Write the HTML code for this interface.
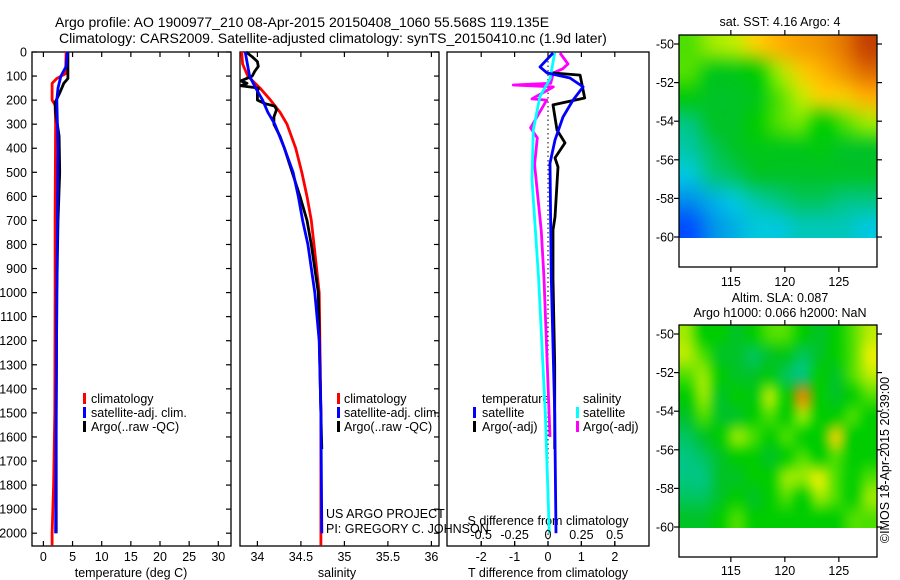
<!DOCTYPE html>
<html><head><meta charset="utf-8"><style>
body{margin:0;background:#fff;}
svg{display:block;font-family:"Liberation Sans",sans-serif;}
canvas{position:absolute;}
#wrap{position:relative;width:900px;height:580px;overflow:hidden;}
</style></head><body>
<div id="wrap">
<canvas id="sstmap" width="198" height="203" style="left:679px;top:35px;width:198px;height:203px;"></canvas>
<canvas id="slamap" width="198" height="203" style="left:679px;top:325px;width:198px;height:203px;"></canvas>
<svg id="fig" width="900" height="580" style="position:absolute;left:0;top:0">
<text x="55" y="27" font-size="14">Argo profile: AO 1900977_210 08-Apr-2015 20150408_1060 55.568S 119.135E</text>
<text x="59" y="43" font-size="14">Climatology: CARS2009. Satellite-adjusted climatology: synTS_20150410.nc (1.9d later)</text>
<rect x="32" y="52" width="199" height="494" fill="none" stroke="#000" stroke-width="1.3"/>
<rect x="240" y="52" width="199" height="494" fill="none" stroke="#000" stroke-width="1.3"/>
<rect x="447" y="52" width="202" height="494" fill="none" stroke="#000" stroke-width="1.3"/>
<line x1="548" y1="52" x2="548" y2="546" stroke="#000" stroke-dasharray="1.5,3"/>
<text x="131" y="577" font-size="12.5" text-anchor="middle">temperature (deg C)</text>
<text x="337" y="577" font-size="12.5" text-anchor="middle">salinity</text>
<text x="548" y="577" font-size="12.5" text-anchor="middle">T difference from climatology</text>
<text x="548" y="525" font-size="12.5" text-anchor="middle">S difference from climatology</text>
<text x="326" y="518" font-size="12.5">US ARGO PROJECT</text>
<text x="326" y="533" font-size="12.5">PI: GREGORY C. JOHNSON</text>
<g font-size="12.5">
<rect x="83" y="393" width="3" height="11" fill="#f00"/>
<text x="91" y="403">climatology</text>
<rect x="83" y="407" width="3" height="11" fill="#00f"/>
<text x="91" y="417">satellite-adj. clim.</text>
<rect x="83" y="421" width="3" height="11" fill="#000"/>
<text x="91" y="431">Argo(..raw -QC)</text>
</g>
<g font-size="12.5">
<rect x="337" y="393" width="3" height="11" fill="#f00"/>
<text x="344" y="403">climatology</text>
<rect x="337" y="407" width="3" height="11" fill="#00f"/>
<text x="344" y="417">satellite-adj. clim.</text>
<rect x="337" y="421" width="3" height="11" fill="#000"/>
<text x="344" y="431">Argo(..raw -QC)</text>
</g>
<g font-size="12.5">
<text x="482" y="403">temperature</text>
<text x="583" y="403">salinity</text>
<rect x="473" y="407" width="3" height="11" fill="#00f"/>
<text x="482" y="417">satellite</text>
<rect x="473" y="421" width="3" height="11" fill="#000"/>
<text x="482" y="431">Argo(-adj)</text>
<rect x="576" y="407" width="3" height="11" fill="#0ff"/>
<text x="583" y="417">satellite</text>
<rect x="576" y="421" width="3" height="11" fill="#f0f"/>
<text x="583" y="431">Argo(-adj)</text>
</g>
<text x="780" y="26" font-size="12.5" text-anchor="middle">sat. SST: 4.16 Argo: 4</text>
<text x="780" y="302" font-size="12.5" text-anchor="middle">Altim. SLA: 0.087</text>
<text x="780" y="317" font-size="12.5" text-anchor="middle">Argo h1000: 0.066 h2000: NaN</text>
<rect x="679" y="35" width="198" height="232" fill="none" stroke="#000" stroke-width="1.3"/>
<rect x="679" y="325" width="198" height="232" fill="none" stroke="#000" stroke-width="1.3"/>
<text transform="translate(889,460) rotate(-90)" font-size="12.5" text-anchor="middle">©IMOS 18-Apr-2015 20:39:00</text>
<g id="dyn"></g>
</svg>
</div>
<script>
// ---- profile data (depth m, value) ----
const depthTclim = [0,90,110,130,200,220,300,700,1000,1500,1800,2000,2050];
const tempClim   = [3.9,3.8,2.3,1.5,1.5,2.0,2.1,2.0,2.0,1.95,1.75,1.5,1.5];
const depthTsat  = [0,60,100,150,200,400,1000,1500,2000];
const tempSat    = [4.1,3.9,3.0,2.5,2.3,2.5,2.3,2.2,2.1];
const depthTargo = [0,80,110,130,170,210,250,350,500,700,1000,1500,2000];
const tempArgo   = [4.2,4.2,4.2,3.5,2.8,2.0,2.1,2.7,2.8,2.5,2.3,2.2,2.2];

const depthSclim = [0,50,100,150,200,250,300,400,500,600,700,800,1000,1500,2050];
const salClim    = [33.82,33.83,33.89,34.03,34.15,34.26,34.34,34.44,34.51,34.57,34.62,34.65,34.71,34.73,34.73];
const depthSsat  = [0,100,150,200,250,300,400,500,600,700,800,1000,1200,1500,2000];
const salSat     = [33.86,33.91,33.98,34.06,34.12,34.20,34.31,34.41,34.47,34.52,34.58,34.66,34.71,34.73,34.74];
const depthSargo = [0,20,40,60,80,100,120,130,140,150,170,200,215,225,240,270,300,350,400,500,600,700,800,1000,1500,1650];
const salArgo    = [33.87,33.94,34.00,34.01,33.97,33.94,33.81,33.88,33.81,34.01,34.0,34.0,34.09,34.20,34.22,34.19,34.19,34.26,34.31,34.40,34.49,34.57,34.62,34.70,34.73,34.74];

const depthDTsat = [4,62,87,108,145,200,270,366,462,940,1500,2000];
const dTsat      = [0.15,-0.24,-0.03,0.66,1.05,0.75,0.45,0.21,0.06,0.1,0.2,0.24];
const depthDTargo= [87,96,191,220,324,378,440,478,686,740,940,1300,1650];
const dTargo     = [0.12,0.96,1.1,0.15,0.27,0.51,0.21,0.3,0.21,0.15,0.15,0.2,0.2];
const depthDSsat = [4,112,184,324,530,940,1500,2000];
const dSsat      = [0.05,0.015,-0.06,-0.11,-0.12,-0.07,-0.02,0.01];
const depthDSargo= [4,50,70,87,130,137,145,195,200,315,357,468,745,940,1600];
const dSargo     = [0.09,0.15,0.11,0.04,0.02,-0.26,0.04,-0.12,-0.01,-0.13,-0.08,-0.1,-0.05,-0.03,0.015];

const depthTicks = [0,100,200,300,400,500,600,700,800,900,1000,1100,1200,1300,1400,1500,1600,1700,1800,1900,2000];
const tempTicks = [0,5,10,15,20,25,30];
const salTicks = [34,34.5,35,35.5,36];
const salTickLabels = ["34","34.5","35","35.5","36"];
const tdTicks = [-2,-1,0,1,2];
const sdTicks = [-0.5,-0.25,0,0.25,0.5];
const sdTickLabels = ["-0.5","-0.25","0","0.25","0.5"];
const latTicks = [-50,-52,-54,-56,-58,-60];
const lonTicks = [115,120,125];

// ---- axis functions ----
const yD = d => 52 + d*0.2406;
const xT = t => 43.4 + t*5.83;
const xS = s => 240 + (s-33.8)*87;
const xTd = v => 548 + v*33.4;
const xSd = v => 548 + v*133.6;
const mapX = lon => 679 + (lon-110.2)*10.8;
const mapYtop = lat => 44 + (-50-lat)*19.3;
const mapYbot = lat => 334 + (-50-lat)*19.3;

const NS = "http://www.w3.org/2000/svg";
const dyn = document.getElementById('dyn');
function mk(tag){ const e = document.createElementNS(NS, tag); dyn.appendChild(e); return e; }

function drawLine(depths, vals, xf, color, name){
  const el = mk('polyline');
  el.setAttribute('points', depths.map((d,i)=>xf(vals[i]).toFixed(1)+','+yD(d).toFixed(1)).join(' '));
  el.setAttribute('fill','none');
  el.setAttribute('stroke',color);
  el.setAttribute('stroke-width','2.8');
  el.setAttribute('stroke-linejoin','round');
  
  
}
drawLine(depthTclim,tempClim,xT,'#f00','temp-climatology-line');
drawLine(depthTargo,tempArgo,xT,'#000','temp-argo-line');
drawLine(depthTsat,tempSat,xT,'#00f','temp-satellite-line');
drawLine(depthSclim,salClim,xS,'#f00','sal-climatology-line');
drawLine(depthSargo,salArgo,xS,'#000','sal-argo-line');
drawLine(depthSsat,salSat,xS,'#00f','sal-satellite-line');
drawLine(depthDSargo,dSargo,xSd,'#f0f','s-diff-argo-line');
drawLine(depthDTargo,dTargo,xTd,'#000','t-diff-argo-line');
drawLine(depthDSsat,dSsat,xSd,'#0ff','s-diff-satellite-line');
drawLine(depthDTsat,dTsat,xTd,'#00f','t-diff-satellite-line');

function tick(x1,y1,x2,y2,name){
  const l = mk('line');
  l.setAttribute('x1',x1); l.setAttribute('y1',y1); l.setAttribute('x2',x2); l.setAttribute('y2',y2);
  l.setAttribute('stroke','#000'); l.setAttribute('stroke-width','1.2');
  
  
}
function label(x,y,txt,anchor,name){
  const t = mk('text');
  t.setAttribute('x',x); t.setAttribute('y',y); t.setAttribute('font-size','12.5');
  t.setAttribute('text-anchor',anchor); t.textContent = txt;
  
  
}
depthTicks.forEach(d=>{
  const y = yD(d);
  label(27, y+4.5, String(d), 'end', 'depth-tick-label');
  tick(32,y,37,y,'depth-tick');
  tick(226,y,231,y,'depth-tick');
  tick(434,y,439,y,'depth-tick');
});
tempTicks.forEach(v=>{
  const x = xT(v);
  tick(x,52,x,57,'temp-tick'); tick(x,541,x,546,'temp-tick');
  label(x,561,String(v),'middle','temp-tick-label');
});
salTicks.forEach((v,i)=>{
  const x = xS(v);
  tick(x,52,x,57,'sal-tick'); tick(x,541,x,546,'sal-tick');
  label(x,561,salTickLabels[i],'middle','sal-tick-label');
});
tdTicks.forEach(v=>{
  const x = xTd(v);
  tick(x,52,x,57,'t-diff-tick'); tick(x,541,x,546,'t-diff-tick');
  label(x,561,String(v),'middle','t-diff-tick-label');
});
sdTicks.forEach((v,i)=>{
  const x = xSd(v);
  tick(x,541,x,546,'s-diff-tick');
  label(x,539,sdTickLabels[i],'middle','s-diff-tick-label');
});
latTicks.forEach(v=>{
  [[mapYtop,'sst'],[mapYbot,'sla']].forEach(([f,n])=>{
    const y = f(v);
    tick(674,y,679,y,n+'-lat-tick'); tick(877,y,882,y,n+'-lat-tick');
    label(674,y+4.5,String(v),'end',n+'-lat-tick-label');
  });
});
lonTicks.forEach(v=>{
  const x = mapX(v);
  tick(x,30,x,35,'sst-lon-tick'); tick(x,267,x,272,'sst-lon-tick');
  label(x,286,String(v),'middle','sst-lon-tick-label');
  tick(x,320,x,325,'sla-lon-tick'); tick(x,557,x,562,'sla-lon-tick');
  label(x,575,String(v),'middle','sla-lon-tick-label');
});

// ---- map data (normalized colour index 0..1) ----
const sstGrid = [
 [.55,.6,.62,.7,.75,.78,.8,.85,.92],
 [.55,.47,.47,.5,.6,.7,.75,.8,.86],
 [.48,.45,.45,.47,.55,.62,.7,.7,.75],
 [.4,.45,.45,.5,.55,.57,.5,.55,.6],
 [.38,.42,.45,.47,.47,.47,.48,.45,.45],
 [.35,.4,.42,.45,.45,.45,.45,.45,.45],
 [.28,.32,.35,.38,.4,.42,.42,.4,.4],
 [.2,.28,.32,.35,.35,.37,.37,.37,.35]];
const slaGrid = [
 [.6,.5,.5,.45,.5,.55,.55,.5,.45,.5,.55,.62],
 [.62,.55,.45,.45,.42,.45,.47,.42,.45,.5,.55,.65],
 [.55,.6,.5,.45,.45,.48,.42,.4,.5,.45,.55,.62],
 [.5,.6,.45,.5,.48,.62,.5,.82,.5,.45,.5,.55],
 [.45,.55,.45,.45,.5,.55,.5,.6,.5,.5,.55,.5],
 [.42,.45,.5,.6,.55,.5,.55,.5,.5,.7,.5,.5],
 [.4,.42,.45,.5,.5,.45,.5,.55,.5,.55,.5,.5],
 [.4,.4,.45,.45,.5,.5,.6,.6,.65,.55,.5,.55],
 [.42,.42,.45,.5,.45,.5,.55,.5,.6,.55,.5,.6],
 [.45,.45,.5,.55,.5,.5,.5,.5,.5,.5,.55,.55]];
const cmapStops = [0,.2,.35,.45,.5,.57,.65,.75,.88,1];
const cmapCols = [[0,0,140],[0,80,255],[0,200,220],[0,195,40],[0,205,0],[110,230,0],[230,240,0],[255,180,0],[220,100,0],[150,0,0]];
function cmap(v){
  for(let i=1;i<cmapStops.length;i++){
    if(v<=cmapStops[i]){
      const f=(v-cmapStops[i-1])/(cmapStops[i]-cmapStops[i-1]);
      return cmapCols[i-1].map((c,k)=>Math.round(c+(cmapCols[i][k]-c)*f));
    }
  }
  return cmapCols[cmapCols.length-1];
}
function drawMap(id, grid){
  const rows=grid.length, cols=grid[0].length;
  const small=document.createElement('canvas'); small.width=cols; small.height=rows;
  const sc=small.getContext('2d'); const img=sc.createImageData(cols,rows);
  grid.forEach((r,i)=>r.forEach((v,j)=>{const c=cmap(v);const p=(i*cols+j)*4;img.data[p]=c[0];img.data[p+1]=c[1];img.data[p+2]=c[2];img.data[p+3]=255;}));
  sc.putImageData(img,0,0);
  const cv=document.getElementById(id); const ctx=cv.getContext('2d');
  ctx.imageSmoothingEnabled=true; ctx.imageSmoothingQuality='high';
  ctx.drawImage(small,0,0,cols,rows,0,0,cv.width,cv.height);
}
drawMap('sstmap', sstGrid);
drawMap('slamap', slaGrid);
</script>
</body></html>
